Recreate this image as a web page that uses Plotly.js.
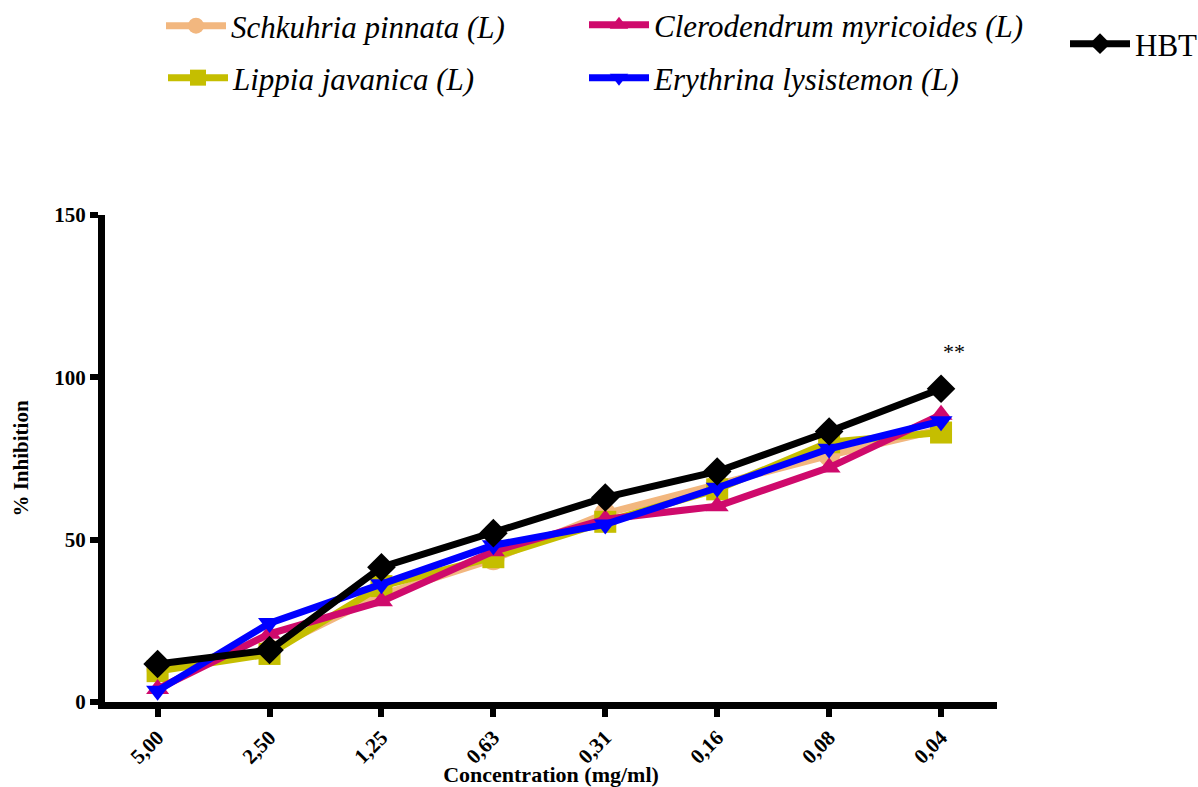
<!DOCTYPE html>
<html>
<head>
<meta charset="utf-8">
<script src="https://cdn.plot.ly/plotly-3.0.1.min.js"></script>
<style>html,body{margin:0;padding:0;background:#fff;}#chart{width:1198px;height:787px;}</style>
</head>
<body>
<div id="chart"></div>
<script>
const concentrations = ["5,00", "2,50", "1,25", "0,63", "0,31", "0,16", "0,08", "0,04"];
const schkuhria = [10, 16, 33, 44, 58, 67, 76, 84];
const lippia = [9.5, 14.8, 35.7, 44.6, 55.5, 65.5, 80, 83];
const clerodendrum = [4, 21, 31, 46.4, 56.3, 60.3, 72.2, 88.5];
const erythrina = [3.5, 24.3, 36.3, 48.3, 54.7, 66, 78, 86.5];
const hbt = [11.7, 16, 41.5, 52, 63, 71, 83.3, 96.5];
const significance = {label: "**", category: "0,04", value: 108};

const serif = "Liberation Serif";
const M = {l: 105, r: 201, t: 215, b: 85};
const plotW = 1198 - M.l - M.r, plotH = 787 - M.t - M.b;

function series(name, y, color, symbol, size, legend) {
  return {
    x: concentrations, y: y, name: name, type: "scatter", mode: "lines+markers",
    line: {color: color, width: 7},
    marker: {color: color, symbol: symbol, size: size},
    legend: legend, cliponaxis: false
  };
}
const data = [
  series("Schkuhria pinnata (L)", schkuhria, "#F2B77F", "circle", 22, "legend"),
  series("Lippia javanica (L)", lippia, "#C5BE00", "square", 22, "legend2"),
  series("Clerodendrum myricoides (L)", clerodendrum, "#CF0A6C", "triangle-up", 20, "legend3"),
  series("Erythrina lysistemon (L)", erythrina, "#0000FF", "triangle-down", 20, "legend4"),
  series("HBT", hbt, "#000000", "diamond", 22, "legend5")
];
function leg(px, py, italic) {
  return {
    x: (px - M.l) / plotW, y: (787 - M.b - py) / plotH,
    xanchor: "left", yanchor: "middle", itemwidth: 60,
    font: {family: serif, size: 31, color: "#000", style: italic ? "italic" : "normal"},
    bgcolor: "rgba(0,0,0,0)", borderwidth: 0
  };
}
const axisFont = {family: serif, size: 21, color: "#000", weight: "bold"};
const layout = {
  width: 1198, height: 787,
  paper_bgcolor: "#fff", plot_bgcolor: "#fff",
  margin: {l: M.l, r: M.r, t: M.t, b: M.b, autoexpand: false},
  showlegend: true,
  legend: leg(161, 26, true),
  legend2: leg(163, 78, true),
  legend3: leg(584, 25, true),
  legend4: leg(584, 78, true),
  legend5: leg(1065, 44, false),
  xaxis: {
    type: "category", range: [-0.47, 7.5],
    showline: true, linecolor: "#000", linewidth: 7,
    ticks: "outside", ticklen: 8, tickwidth: 6, tickcolor: "#000",
    tickangle: -45, tickfont: axisFont, showgrid: false, zeroline: false,
    title: {text: "Concentration (mg/ml)", font: {family: serif, size: 22, color: "#000", weight: "bold"}, standoff: 4}
  },
  yaxis: {
    range: [0, 150], tickvals: [0, 50, 100, 150],
    showline: true, linecolor: "#000", linewidth: 7,
    ticks: "outside", ticklen: 8, tickwidth: 6, tickcolor: "#000",
    tickfont: axisFont, showgrid: false, zeroline: false, side: "left",
    title: {text: "% Inhibition", font: {family: serif, size: 21, color: "#000", weight: "bold"}, standoff: 22}
  },
  annotations: [{
    x: significance.category, y: significance.value, xref: "x", yref: "y",
    text: significance.label, showarrow: false, xshift: 13,
    font: {family: serif, size: 22, color: "#000"}
  }]
};
const fontLoads = [
  "21px 'Liberation Serif'", "bold 21px 'Liberation Serif'", "italic 31px 'Liberation Serif'"
].map(f => (document.fonts && document.fonts.load) ? document.fonts.load(f).catch(() => null) : Promise.resolve());
Promise.all(fontLoads).then(() => {
  Plotly.newPlot("chart", data, layout, {displayModeBar: false, staticPlot: true});
});
</script>
</body>
</html>
